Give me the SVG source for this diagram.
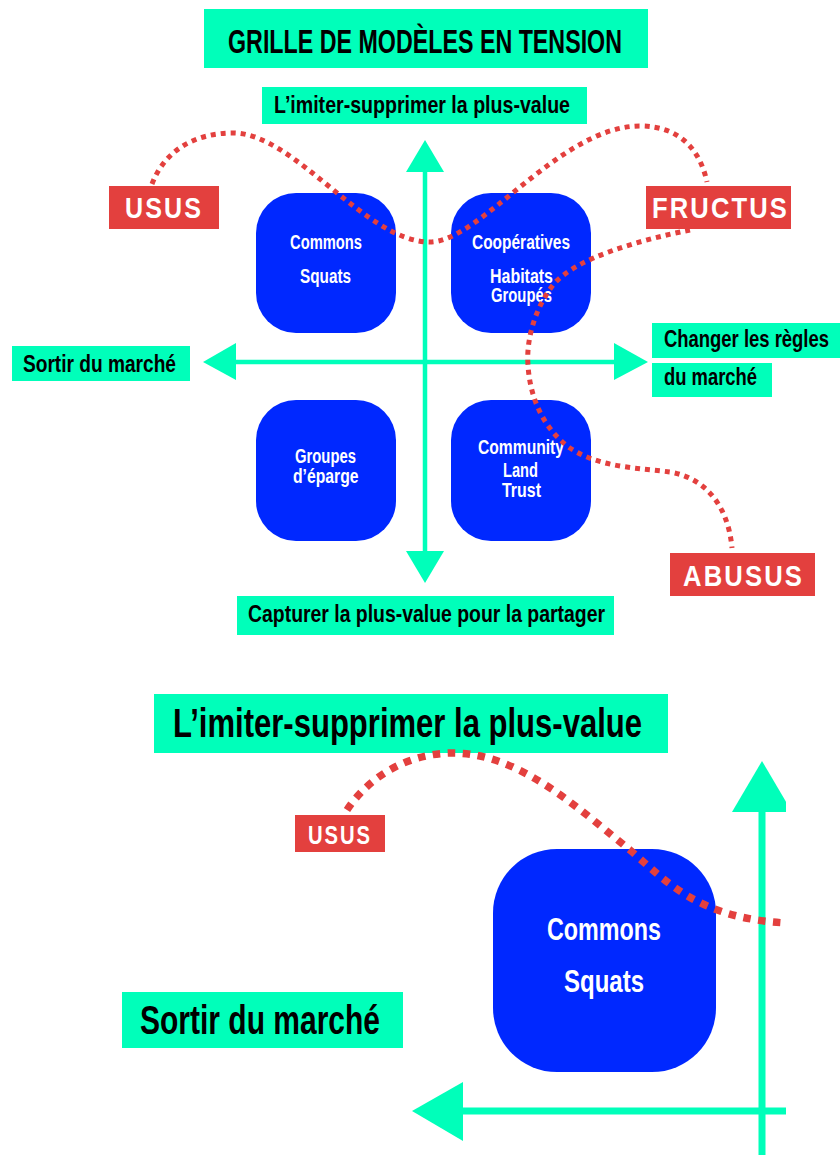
<svg xmlns="http://www.w3.org/2000/svg" width="840" height="1155" viewBox="0 0 840 1155">
<style>
.teal{fill:#00FFBA}
.lbl{font-family:"Liberation Sans Narrow","Liberation Sans",Arial,sans-serif;font-weight:bold;fill:#000}
.node rect{fill:#0028FF}
.ntx{font-family:"Liberation Sans Narrow","Liberation Sans",Arial,sans-serif;font-weight:bold;fill:#fff}
.red{fill:#E3403E}
.rtx{font-family:"Liberation Sans Narrow","Liberation Sans",Arial,sans-serif;font-weight:bold;fill:#fff;letter-spacing:2.5px}
.axis{stroke:#00FFBA;fill:none}
.dots{fill:none;stroke:#E3403E;stroke-linecap:butt}
</style>
<defs>
<clipPath id="clipB"><rect x="0" y="660" width="786" height="495"/></clipPath>
</defs>
<rect width="840" height="1155" fill="#fff"/>

<!-- Title -->
<g id="title">
<rect class="teal" x="204" y="9" width="444" height="59"/>
<text class="lbl" x="228" y="52.5" font-size="34" textLength="394" lengthAdjust="spacingAndGlyphs">GRILLE DE MODÈLES EN TENSION</text>
</g>

<!-- Axes (top) -->
<g id="axes-top">
<line class="axis" x1="425" y1="170" x2="425" y2="553" stroke-width="4.5"/>
<line class="axis" x1="234" y1="362" x2="616" y2="362" stroke-width="4.5"/>
<polygon class="teal" points="425,140 406,172 444,172"/>
<polygon class="teal" points="425,583 406,551 444,551"/>
<polygon class="teal" points="203,362 236,343 236,380"/>
<polygon class="teal" points="648,362 614,343 614,380"/>
</g>

<g id="label-top">
<rect class="teal" x="262" y="87" width="325" height="37"/>
<text class="lbl" x="274" y="113" font-size="24" textLength="296" lengthAdjust="spacingAndGlyphs">L’imiter-supprimer la plus-value</text>
</g>
<g id="label-left">
<rect class="teal" x="12" y="346" width="178" height="35"/>
<text class="lbl" x="23" y="371.5" font-size="24" textLength="153" lengthAdjust="spacingAndGlyphs">Sortir du marché</text>
</g>
<g id="label-right">
<rect class="teal" x="652" y="323" width="188" height="35"/>
<text class="lbl" x="664" y="346.5" font-size="24" textLength="165" lengthAdjust="spacingAndGlyphs">Changer les règles</text>
<rect class="teal" x="652" y="363" width="120" height="34"/>
<text class="lbl" x="664" y="385" font-size="24" textLength="93" lengthAdjust="spacingAndGlyphs">du marché</text>
</g>
<g id="label-bottom">
<rect class="teal" x="237" y="596" width="377" height="39"/>
<text class="lbl" x="248" y="621.5" font-size="24" textLength="357" lengthAdjust="spacingAndGlyphs">Capturer la plus-value pour la partager</text>
</g>

<!-- Nodes -->
<g id="node-commons" class="node">
<rect x="256" y="193" width="140" height="140" rx="40"/>
<text class="ntx" x="290" y="249" font-size="20" textLength="72" lengthAdjust="spacingAndGlyphs">Commons</text>
<text class="ntx" x="300" y="282.5" font-size="20" textLength="51" lengthAdjust="spacingAndGlyphs">Squats</text>
</g>
<g id="node-cooperatives" class="node">
<rect x="451" y="193" width="140" height="140" rx="40"/>
<text class="ntx" x="472" y="249" font-size="20" textLength="98" lengthAdjust="spacingAndGlyphs">Coopératives</text>
<text class="ntx" x="490" y="282.5" font-size="20" textLength="63" lengthAdjust="spacingAndGlyphs">Habitats</text>
<text class="ntx" x="491" y="302" font-size="20" textLength="61" lengthAdjust="spacingAndGlyphs">Groupés</text>
</g>
<g id="node-epargne" class="node">
<rect x="256" y="400" width="140" height="141" rx="40"/>
<text class="ntx" x="295" y="462.7" font-size="20" textLength="61" lengthAdjust="spacingAndGlyphs">Groupes</text>
<text class="ntx" x="293" y="483.3" font-size="20" textLength="65.5" lengthAdjust="spacingAndGlyphs">d’éparge</text>
</g>
<g id="node-clt" class="node">
<rect x="451" y="400" width="140" height="141" rx="40"/>
<text class="ntx" x="478" y="454.3" font-size="20" textLength="86" lengthAdjust="spacingAndGlyphs">Community</text>
<text class="ntx" x="503" y="476.7" font-size="20" textLength="35" lengthAdjust="spacingAndGlyphs">Land</text>
<text class="ntx" x="502" y="497.3" font-size="20" textLength="39" lengthAdjust="spacingAndGlyphs">Trust</text>
</g>

<g id="tag-usus">
<rect class="red" x="109" y="186" width="110" height="43"/>
<text class="rtx" x="125" y="218.3" font-size="30" textLength="78" lengthAdjust="spacingAndGlyphs">USUS</text>
</g>
<g id="tag-fructus">
<rect class="red" x="646" y="186" width="145" height="43"/>
<text class="rtx" x="652" y="218.3" font-size="30" textLength="137" lengthAdjust="spacingAndGlyphs">FRUCTUS</text>
</g>
<g id="tag-abusus">
<rect class="red" x="670" y="553" width="145" height="43"/>
<text class="rtx" x="683" y="585.7" font-size="30" textLength="121" lengthAdjust="spacingAndGlyphs">ABUSUS</text>
</g>

<!-- Connectors (top) -->
<g id="connectors-top" class="dots" stroke-width="5" stroke-dasharray="5 5">
<path d="M152,184 C165,150 195,133 233,133 C295,133 365,242 430,242 C480,242 560,126 640,126 C680,126 700,150 707,182"/>
<path d="M690,230 C640,240 575,258 553,285 C535,308 526,340 528,365 C530,400 545,430 570,448 C600,468 640,468 670,472 C705,478 728,505 732,548"/>
</g>

<!-- Bottom detail -->
<g id="detail" clip-path="url(#clipB)">
<g id="detail-label-top">
<rect class="teal" x="154" y="694" width="514" height="59"/>
<text class="lbl" x="173" y="737" font-size="41" textLength="469" lengthAdjust="spacingAndGlyphs">L’imiter-supprimer la plus-value</text>
</g>
<g id="detail-axes">
<line class="axis" x1="762" y1="810" x2="762" y2="1155" stroke-width="7"/>
<line class="axis" x1="461" y1="1111" x2="786" y2="1111" stroke-width="7"/>
<polygon class="teal" points="762,761 732,812 792,812"/>
<polygon class="teal" points="412,1111 463,1082 463,1141"/>
</g>
<g id="detail-label-left">
<rect class="teal" x="122" y="992" width="281" height="56"/>
<text class="lbl" x="140" y="1034" font-size="40" textLength="240" lengthAdjust="spacingAndGlyphs">Sortir du marché</text>
</g>
<g id="detail-node-commons" class="node">
<rect x="493" y="849" width="223" height="223" rx="64"/>
<text class="ntx" x="547" y="940" font-size="32" textLength="114" lengthAdjust="spacingAndGlyphs">Commons</text>
<text class="ntx" x="564" y="992" font-size="32" textLength="80" lengthAdjust="spacingAndGlyphs">Squats</text>
</g>
<g id="detail-tag-usus">
<rect class="red" x="295" y="815" width="90" height="37"/>
<text class="rtx" x="308" y="844" font-size="26" textLength="64" lengthAdjust="spacingAndGlyphs">USUS</text>
</g>
<g id="connectors-detail" class="dots" stroke-width="7.5" stroke-dasharray="7.5 7.5">
<path d="M347,810 C370,775 410,753 453,753 C520,753 580,810 630,850 C670,885 700,918 786,923"/>
</g>
</g>
</svg>
